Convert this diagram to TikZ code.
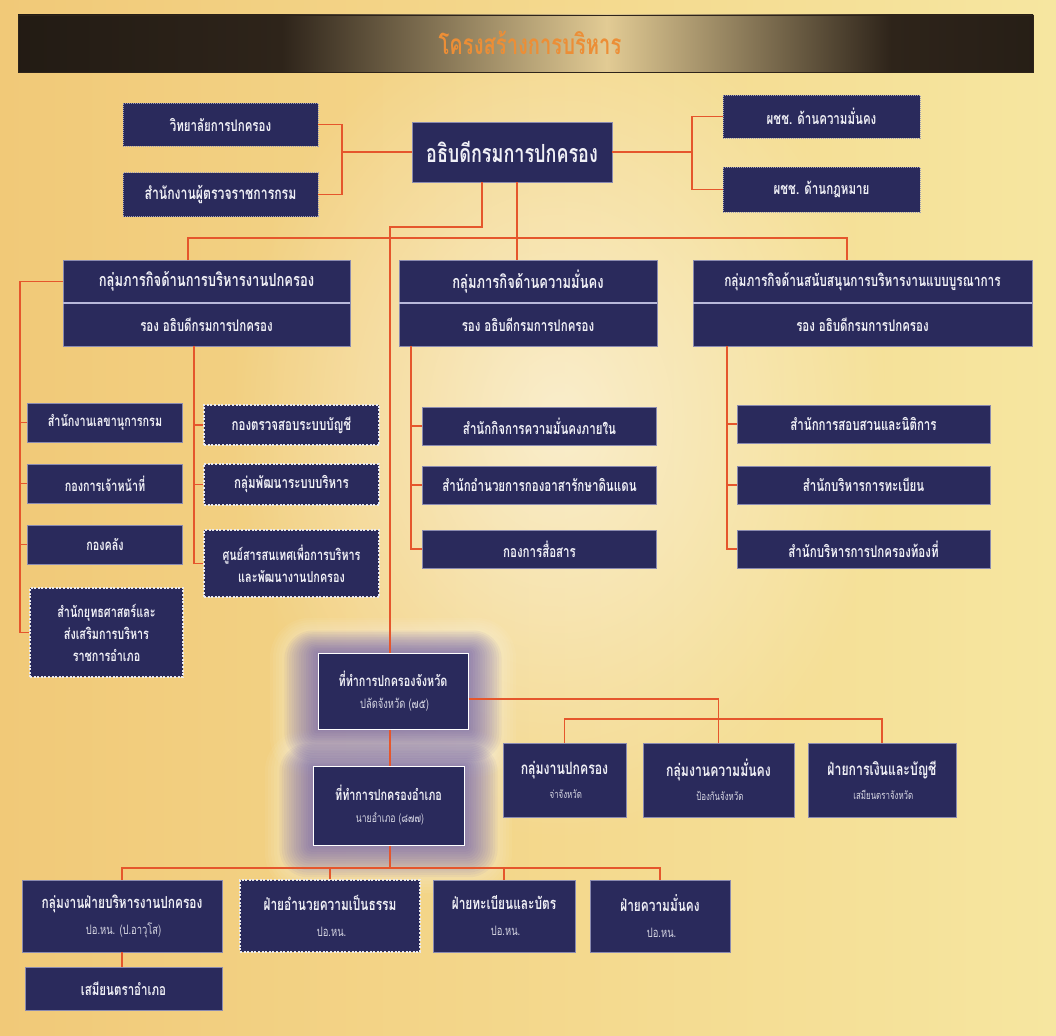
\documentclass[tikz,border=0pt]{standalone}
\usepackage{fontspec}
\newfontfamily\thai[Script=Thai,FakeStretch=0.72]{Loma}
\usetikzlibrary{calc,fadings}
\definecolor{navy}{HTML}{2A2A5C}
\definecolor{navyedge}{HTML}{8A8AB0}
\definecolor{boxtext}{HTML}{F0F0F6}
\definecolor{subtext}{HTML}{D8D8E4}
\definecolor{conn}{HTML}{E5562C}
\definecolor{sepline}{HTML}{B8B8DA}
\definecolor{bgleft}{HTML}{F1C978}
\definecolor{bgmid}{HTML}{FAF1C4}
\definecolor{bgright}{HTML}{F6E6A0}
\definecolor{glowc}{HTML}{4A3496}
\definecolor{tb1}{HTML}{0C0A08}
\definecolor{tb2}{HTML}{2E241A}
\definecolor{tb3}{HTML}{E2CB94}
\definecolor{titlec}{HTML}{EC8E36}
\pgfdeclarehorizontalshading{titlebar}{100bp}{color(0bp)=(tb1); color(38bp)=(tb2); color(54bp)=(tb3); color(68bp)=(tb2); color(100bp)=(tb1)}
\tikzfading[name=softglow, inner color=transparent!0, outer color=transparent!100]
\newcommand{\fs}[1]{\thai\bfseries\fontsize{#1}{#1}\selectfont}
\newcommand{\subl}[1]{\color{subtext}\thai\mdseries\fontsize{#1}{#1}\selectfont}
\begin{document}
\begin{tikzpicture}[x=1pt,y=-1pt,
  box/.style={fill=navy, draw=navyedge, line width=0.6pt, text=boxtext, inner sep=0pt, align=center,
    font=\thai\bfseries\fontsize{16}{21}\selectfont},
  dbox/.style={box, draw=white!90!navy, line width=1.1pt, dash pattern=on 2pt off 1.6pt},
  fbox/.style={box, draw=white!55!navy, line width=0.9pt, dash pattern=on 1pt off 1pt},
  gbox/.style={box, draw=navyedge},
  wbox/.style={box, draw=white, line width=1pt},
  gtext/.style={text=boxtext, inner sep=0pt, font=\thai\bfseries\fontsize{16}{20}\selectfont},
  wire/.style={draw=conn, line width=1.1pt}
]
\useasboundingbox (0,0) rectangle (1056,1035);
% background
\shade[left color=bgleft, middle color=bgmid, right color=bgright] (0,0) rectangle (1056,1035);
\fill[white, opacity=0.55, path fading=softglow] (560,420) ellipse (330 and 420);
% title bar
\shade[shading=titlebar, draw=tb2, line width=0.6pt] (18,15) rectangle (1033,72);
\node[text=titlec, font=\fs{28}] (title) at (530,43) {โครงสร้างการบริหาร};

% glows
\foreach \i in {1,...,16} {
  \fill[white, opacity=0.05, rounded corners=2.5*\i] (318-3*\i,653-2.2*\i) rectangle (468+3*\i,729+3*\i);
  \fill[white, opacity=0.05, rounded corners=2.5*\i] (313-3*\i,766-2.2*\i) rectangle (464+3*\i,845+3*\i);
}
\foreach \i in {1,...,14} {
  \fill[glowc, opacity=0.05, rounded corners=2*\i] (318-2.4*\i,653-1.6*\i) rectangle (468+2.4*\i,729+2.3*\i);
  \fill[glowc, opacity=0.05, rounded corners=2*\i] (313-2.4*\i,766-1.6*\i) rectangle (464+2.4*\i,845+2.3*\i);
}

% top row
\node[fbox, minimum width=195, minimum height=43] (wit) at (220.5,124.5) {วิทยาลัยการปกครอง};
\node[fbox, minimum width=195, minimum height=44, font=\fs{17}] (sor) at (220.5,194.5) {สำนักงานผู้ตรวจราชการกรม};
\node[box, minimum width=200, minimum height=60, font=\fs{25}] (dir) at (512,152) {อธิบดีกรมการปกครอง};
\node[fbox, minimum width=197, minimum height=43] (pc1) at (821.5,116.5) {ผชช. ด้านความมั่นคง};
\node[fbox, minimum width=197, minimum height=45] (pc2) at (821.5,189.5) {ผชช. ด้านกฎหมาย};

% group boxes
\node[gbox, minimum width=287, minimum height=86] (g1) at (206.5,303) {};
\node[gbox, minimum width=258, minimum height=86] (g2) at (528,303) {};
\node[gbox, minimum width=339, minimum height=86] (g3) at (862.5,303) {};
\foreach \g/\t/\s in {g1/กลุ่มภารกิจด้านการบริหารงานปกครอง/18, g2/กลุ่มภารกิจด้านความมั่นคง/18, g3/กลุ่มภารกิจด้านสนับสนุนการบริหารงานแบบบูรณาการ/16.5} {
  \draw[sepline, line width=1.2pt] (\g.west) -- (\g.east);
  \node[gtext, font=\fs{\s}] (\g t) at ($(\g.north)!0.5!(\g.center)$) {\t};
  \node[gtext] (\g b) at ($(\g.south)!0.5!(\g.center)$) {รอง อธิบดีกรมการปกครอง};
}

% left columns
\node[box, minimum width=155, minimum height=39, font=\fs{15}] (l1) at (105,422.5) {สำนักงานเลขานุการกรม};
\node[box, minimum width=155, minimum height=39, font=\fs{15}] (l2) at (105,483.5) {กองการเจ้าหน้าที่};
\node[box, minimum width=155, minimum height=39, font=\fs{15}] (l3) at (105,544.5) {กองคลัง};
\node[dbox, minimum width=153, minimum height=89, text width=150, font=\thai\bfseries\fontsize{15}{22}\selectfont] (l4) at (106.5,632.5) {สำนักยุทธศาสตร์และ\\ส่งเสริมการบริหาร\\ราชการอำเภอ};
\node[dbox, minimum width=175, minimum height=40] (m1) at (291.5,425) {กองตรวจสอบระบบบัญชี};
\node[dbox, minimum width=175, minimum height=41] (m2) at (291.5,484.5) {กลุ่มพัฒนาระบบบริหาร};
\node[dbox, minimum width=175, minimum height=67, text width=170, font=\thai\bfseries\fontsize{15}{22}\selectfont] (m3) at (291.5,563.5) {ศูนย์สารสนเทศเพื่อการบริหาร\\และพัฒนางานปกครอง};

% middle column
\node[box, minimum width=234, minimum height=38] (s1) at (539.5,426) {สำนักกิจการความมั่นคงภายใน};
\node[box, minimum width=234, minimum height=38] (s2) at (539.5,485) {สำนักอำนวยการกองอาสารักษาดินแดน};
\node[box, minimum width=234, minimum height=38] (s3) at (539.5,549) {กองการสื่อสาร};

% right column
\node[box, minimum width=253, minimum height=38] (r1) at (863.5,424) {สำนักการสอบสวนและนิติการ};
\node[box, minimum width=253, minimum height=38] (r2) at (863.5,485) {สำนักบริหารการทะเบียน};
\node[box, minimum width=253, minimum height=38] (r3) at (863.5,549) {สำนักบริหารการปกครองท้องที่};

% provincial
\node[wbox, minimum width=150, minimum height=76, font=\thai\bfseries\fontsize{15}{22}\selectfont] (prov) at (393,691) {ที่ทำการปกครองจังหวัด\\{\subl{13} ปลัดจังหวัด (๗๕)}};
\node[wbox, minimum width=151, minimum height=79, font=\thai\bfseries\fontsize{15}{22}\selectfont] (dist) at (388.5,805.5) {ที่ทำการปกครองอำเภอ\\{\subl{12} นายอำเภอ (๘๗๗)}};
\node[box, minimum width=123, minimum height=74, font=\thai\bfseries\fontsize{17}{24}\selectfont] (p1) at (564.5,780) {กลุ่มงานปกครอง\\{\subl{11} จ่าจังหวัด}};
\node[box, minimum width=151, minimum height=74, font=\thai\bfseries\fontsize{17}{24}\selectfont] (p2) at (718.5,780) {กลุ่มงานความมั่นคง\\{\subl{11} ป้องกันจังหวัด}};
\node[box, minimum width=148, minimum height=74, font=\thai\bfseries\fontsize{17}{24}\selectfont] (p3) at (882,780) {ฝ่ายการเงินและบัญชี\\{\subl{11} เสมียนตราจังหวัด}};

% district row
\node[box, minimum width=200, minimum height=72, font=\thai\bfseries\fontsize{16.5}{26}\selectfont] (q1) at (122,916) {กลุ่มงานฝ่ายบริหารงานปกครอง\\{\subl{13} ปอ.หน. (ป.อาวุโส)}};
\node[dbox, minimum width=180, minimum height=72, font=\thai\bfseries\fontsize{16.5}{26}\selectfont] (q2) at (330,916) {ฝ่ายอำนวยความเป็นธรรม\\{\subl{13} ปอ.หน.}};
\node[box, minimum width=142, minimum height=72, font=\thai\bfseries\fontsize{16.5}{26}\selectfont] (q3) at (504,916) {ฝ่ายทะเบียนและบัตร\\{\subl{13} ปอ.หน.}};
\node[box, minimum width=140, minimum height=72, font=\thai\bfseries\fontsize{16.5}{26}\selectfont] (q4) at (660,916) {ฝ่ายความมั่นคง\\{\subl{13} ปอ.หน.}};
\node[box, minimum width=197, minimum height=43] (q5) at (123.5,988.5) {เสมียนตราอำเภอ};

% ---- connectors ----
\coordinate (jl) at (342,152);
\draw[wire] (wit.east) -| (jl);
\draw[wire] (sor.east) -| (jl) -- (dir.west);
\coordinate (jr) at (692,152);
\draw[wire] (dir.east) -- (jr);
\draw[wire] (pc1.west) -| (jr) |- (pc2.west);

\coordinate (bus) at (517,238);
\coordinate (t1) at (188,260);
\coordinate (t3) at (847,260);
\draw[wire] (dir.south -| bus) -- (bus |- g2.north);
\draw[wire] (t1) |- (bus) -| (t3);

\coordinate (k1) at (482,227);
\coordinate (k2) at (390,227);
\draw[wire] (dir.south -| k1) -- (k1) -- (k2) -- (k2 |- prov.north);

% left spine
\coordinate (sp1) at (20,0);
\draw[wire] ($(g1.west)!0.5!(g1.north west)$) -| (sp1 |- l4.west) -- (l4.west);
\foreach \n in {l1,l2,l3} \draw[wire] (sp1 |- \n.west) -- (\n.west);
\coordinate (sp2) at (194,0);
\draw[wire] (sp2 |- g1.south) -- (sp2 |- m3.west) -- (m3.west);
\foreach \n in {m1,m2} \draw[wire] (sp2 |- \n.west) -- (\n.west);
\coordinate (sp3) at (411,0);
\draw[wire] (sp3 |- g2.south) -- (sp3 |- s3.west) -- (s3.west);
\foreach \n in {s1,s2} \draw[wire] (sp3 |- \n.west) -- (\n.west);
\coordinate (sp4) at (727,0);
\draw[wire] (sp4 |- g3.south) -- (sp4 |- r3.west) -- (r3.west);
\foreach \n in {r1,r2} \draw[wire] (sp4 |- \n.west) -- (\n.west);

% provincial connectors
\draw[wire] (prov.south -| k2) -- (dist.north -| k2);
\draw[wire] ([yshift=-8pt]prov.east) -| (p2.north);
\coordinate (pb) at (0,719);
\draw[wire] (p1.north) |- (pb -| p3.north) -- (p3.north);

% district connectors
\coordinate (db) at (0,868);
\draw[wire] (dist.south -| k2) -- (k2 |- db);
\draw[wire] (q1.north) |- (db -| q4.north) -- (q4.north);
\draw[wire] (q2.north) -- (q2.north |- db);
\draw[wire] (q3.north) -- (q3.north |- db);
\draw[wire] (q1.south) -- (q1.south |- q5.north);
\end{tikzpicture}
\end{document}
